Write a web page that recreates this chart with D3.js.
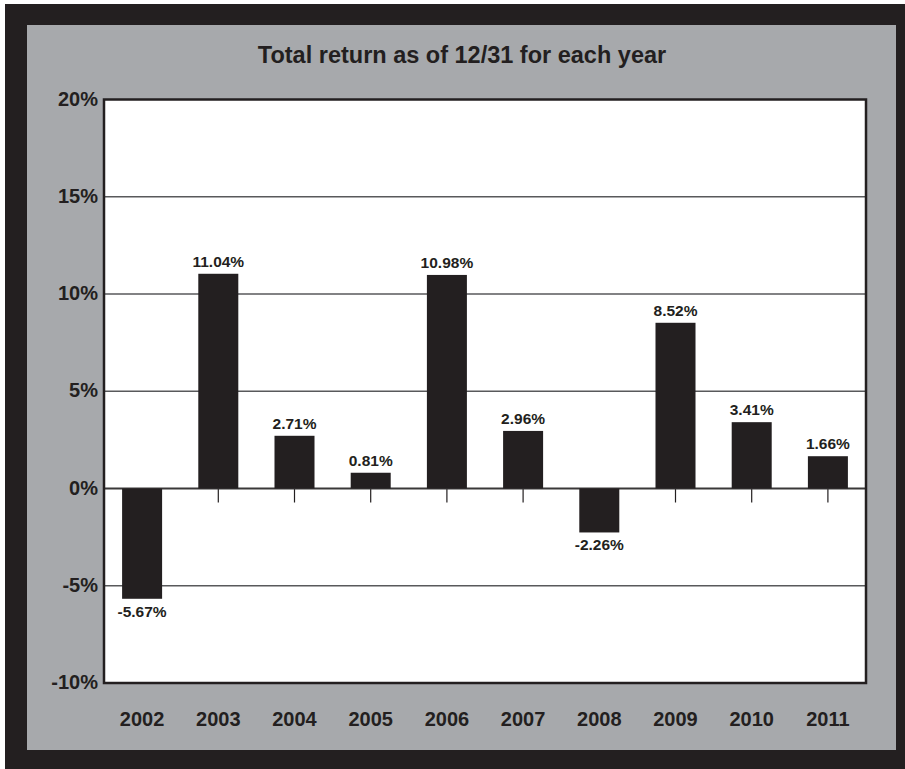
<!DOCTYPE html>
<html>
<head>
<meta charset="utf-8">
<script src="https://cdn.jsdelivr.net/npm/d3@7"></script>
<style>
  html, body { margin: 0; padding: 0; background: #fff; }
  svg text { font-family: "Liberation Sans", Arial, Helvetica, sans-serif; font-weight: bold; fill: #231f20; }
</style>
</head>
<body>
<svg id="chart" width="905" height="769"></svg>
<script>
// chart data
const years = ["2002", "2003", "2004", "2005", "2006", "2007", "2008", "2009", "2010", "2011"];
const returns = [-5.67, 11.04, 2.71, 0.81, 10.98, 2.96, -2.26, 8.52, 3.41, 1.66];
const valueLabels = ["-5.67%", "11.04%", "2.71%", "0.81%", "10.98%", "2.96%", "-2.26%", "8.52%", "3.41%", "1.66%"];
const yTicks = [-10, -5, 0, 5, 10, 15, 20];
const title = "Total return as of 12/31 for each year";

const ink = "#231f20";
const svg = d3.select("#chart");

// frame: black border, grey panel
svg.append("rect")
  .attr("x", 5).attr("y", 4)
  .attr("width", 900).attr("height", 765)
  .attr("fill", ink);
svg.append("rect")
  .attr("x", 27).attr("y", 25)
  .attr("width", 869).attr("height", 725)
  .attr("fill", "#a7a9ac");

const plot = { left: 104, right: 866, top: 99.5, bottom: 683 };

const x = d3.scaleBand()
  .domain(years)
  .range([plot.left, plot.right])
  .paddingInner(0.475)
  .paddingOuter(0.2375);

const y = d3.scaleLinear()
  .domain([-10, 20])
  .range([plot.bottom, plot.top]);

// white plot area
svg.append("rect")
  .attr("x", plot.left).attr("y", plot.top)
  .attr("width", plot.right - plot.left)
  .attr("height", plot.bottom - plot.top)
  .attr("fill", "#fff");

// gridlines
svg.append("g")
  .selectAll("line")
  .data(yTicks.filter(t => t !== 0 && t !== 20 && t !== -10))
  .join("line")
  .attr("x1", plot.left).attr("x2", plot.right)
  .attr("y1", d => y(d)).attr("y2", d => y(d))
  .attr("stroke", "#58595b")
  .attr("stroke-width", 1.3);

// ticks below zero line at each category
svg.append("g")
  .selectAll("line")
  .data(years)
  .join("line")
  .attr("x1", d => x(d) + x.bandwidth() / 2)
  .attr("x2", d => x(d) + x.bandwidth() / 2)
  .attr("y1", y(0)).attr("y2", y(0) + 14)
  .attr("stroke", ink)
  .attr("stroke-width", 1.2);

// zero line
svg.append("line")
  .attr("x1", plot.left).attr("x2", plot.right)
  .attr("y1", y(0)).attr("y2", y(0))
  .attr("stroke", "#3a3839")
  .attr("stroke-width", 2);

// bars
svg.append("g")
  .selectAll("rect")
  .data(returns)
  .join("rect")
  .attr("x", (d, i) => x(years[i]))
  .attr("width", x.bandwidth())
  .attr("y", d => y(Math.max(0, d)))
  .attr("height", d => Math.abs(y(d) - y(0)))
  .attr("fill", ink);

// value labels
svg.append("g")
  .selectAll("text")
  .data(returns)
  .join("text")
  .attr("x", (d, i) => x(years[i]) + x.bandwidth() / 2)
  .attr("y", d => d >= 0 ? y(d) - 7 : y(d) + 18)
  .attr("text-anchor", "middle")
  .attr("font-size", 15.5)
  .text((d, i) => valueLabels[i]);

// plot border
svg.append("rect")
  .attr("x", plot.left).attr("y", plot.top)
  .attr("width", plot.right - plot.left)
  .attr("height", plot.bottom - plot.top)
  .attr("fill", "none")
  .attr("stroke", ink)
  .attr("stroke-width", 2.5);

// y axis labels
svg.append("g")
  .selectAll("text")
  .data(yTicks)
  .join("text")
  .attr("x", 98)
  .attr("y", d => y(d) + 6)
  .attr("text-anchor", "end")
  .attr("font-size", 20)
  .text(d => d + "%");

// x axis labels
svg.append("g")
  .selectAll("text")
  .data(years)
  .join("text")
  .attr("x", d => x(d) + x.bandwidth() / 2)
  .attr("y", 726)
  .attr("text-anchor", "middle")
  .attr("font-size", 20)
  .text(d => d);

// title
svg.append("text")
  .attr("x", 462)
  .attr("y", 63)
  .attr("text-anchor", "middle")
  .attr("font-size", 23.5)
  .text(title);
</script>
</body>
</html>
